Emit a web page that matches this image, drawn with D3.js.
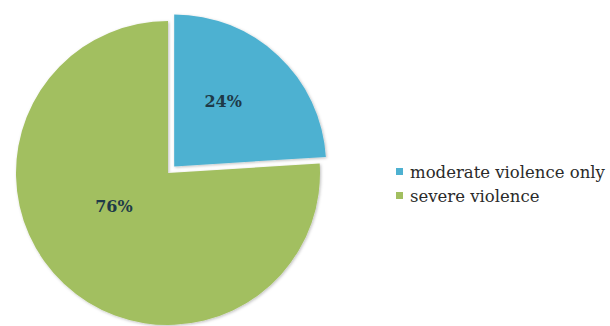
<!DOCTYPE html>
<html>
<head>
<meta charset="utf-8">
<script src="https://cdn.jsdelivr.net/npm/d3@7"></script>
<style>
  html, body { margin: 0; padding: 0; background: #fff; }
  svg { display: block; }
</style>
</head>
<body>
<svg id="chart"></svg>
<script>
const categories = ['moderate violence only', 'severe violence'];
const values = [24, 76];
const colors = ['#4eb1d1', '#a2bf60'];

const width = 610;
const height = 326;
const cx = 168;
const cy = 173;
const radius = 152;
const explode = 9;

const svg = d3.select('#chart').attr('width', width).attr('height', height);

// soft shadow like the original
const defs = svg.append('defs');
const filter = defs.append('filter').attr('id', 'shadow')
  .attr('x', '-10%').attr('y', '-10%').attr('width', '120%').attr('height', '120%');
filter.append('feDropShadow')
  .attr('dx', 1).attr('dy', 1).attr('stdDeviation', 1.5)
  .attr('flood-color', '#000').attr('flood-opacity', 0.25);

const pie = d3.pie().sort(null).value((d) => d);
const arcs = pie(values);

const arc = d3.arc().innerRadius(0).outerRadius(radius);
const labelArc = d3.arc().innerRadius(radius * 0.5).outerRadius(radius * 0.5);

const g = svg.append('g').attr('transform', `translate(${cx},${cy})`);

const slices = g.selectAll('g.slice')
  .data(arcs)
  .join('g')
  .attr('class', 'slice')
  .attr('transform', (d, i) => {
    if (i !== 0) return null;
    const a = (d.startAngle + d.endAngle) / 2;
    return `translate(${Math.sin(a) * explode},${-Math.cos(a) * explode})`;
  });

slices.append('path')
  .attr('d', arc)
  .attr('fill', (d, i) => colors[i])
  .attr('filter', 'url(#shadow)');

slices.append('text')
  .attr('transform', (d, i) => {
    const [x, y] = labelArc.centroid(d);
    // nudge labels toward where the source puts them
    return i === 0 ? `translate(${x - 3},${y - 10})` : `translate(${x - 2},${y - 22})`;
  })
  .attr('text-anchor', 'middle')
  .attr('dy', '0.35em')
  .attr('font-family', '"DejaVu Serif", serif')
  .attr('font-weight', 'bold')
  .attr('font-size', 16)
  .attr('fill', '#1e3a48')
  .text((d) => `${d.data}%`);

// Legend
const legend = svg.append('g').attr('transform', 'translate(396,172)');
const item = legend.selectAll('g')
  .data(categories)
  .join('g')
  .attr('transform', (d, i) => `translate(0,${i * 24})`);

item.append('rect')
  .attr('x', 0).attr('y', -4)
  .attr('width', 7).attr('height', 7)
  .attr('fill', (d, i) => colors[i]);

item.append('text')
  .attr('x', 14)
  .attr('dy', '0.35em')
  .attr('font-family', '"DejaVu Serif", serif')
  .attr('font-size', 16.5)
  .attr('fill', '#2a2a2a')
  .text((d) => d);
</script>
</body>
</html>
